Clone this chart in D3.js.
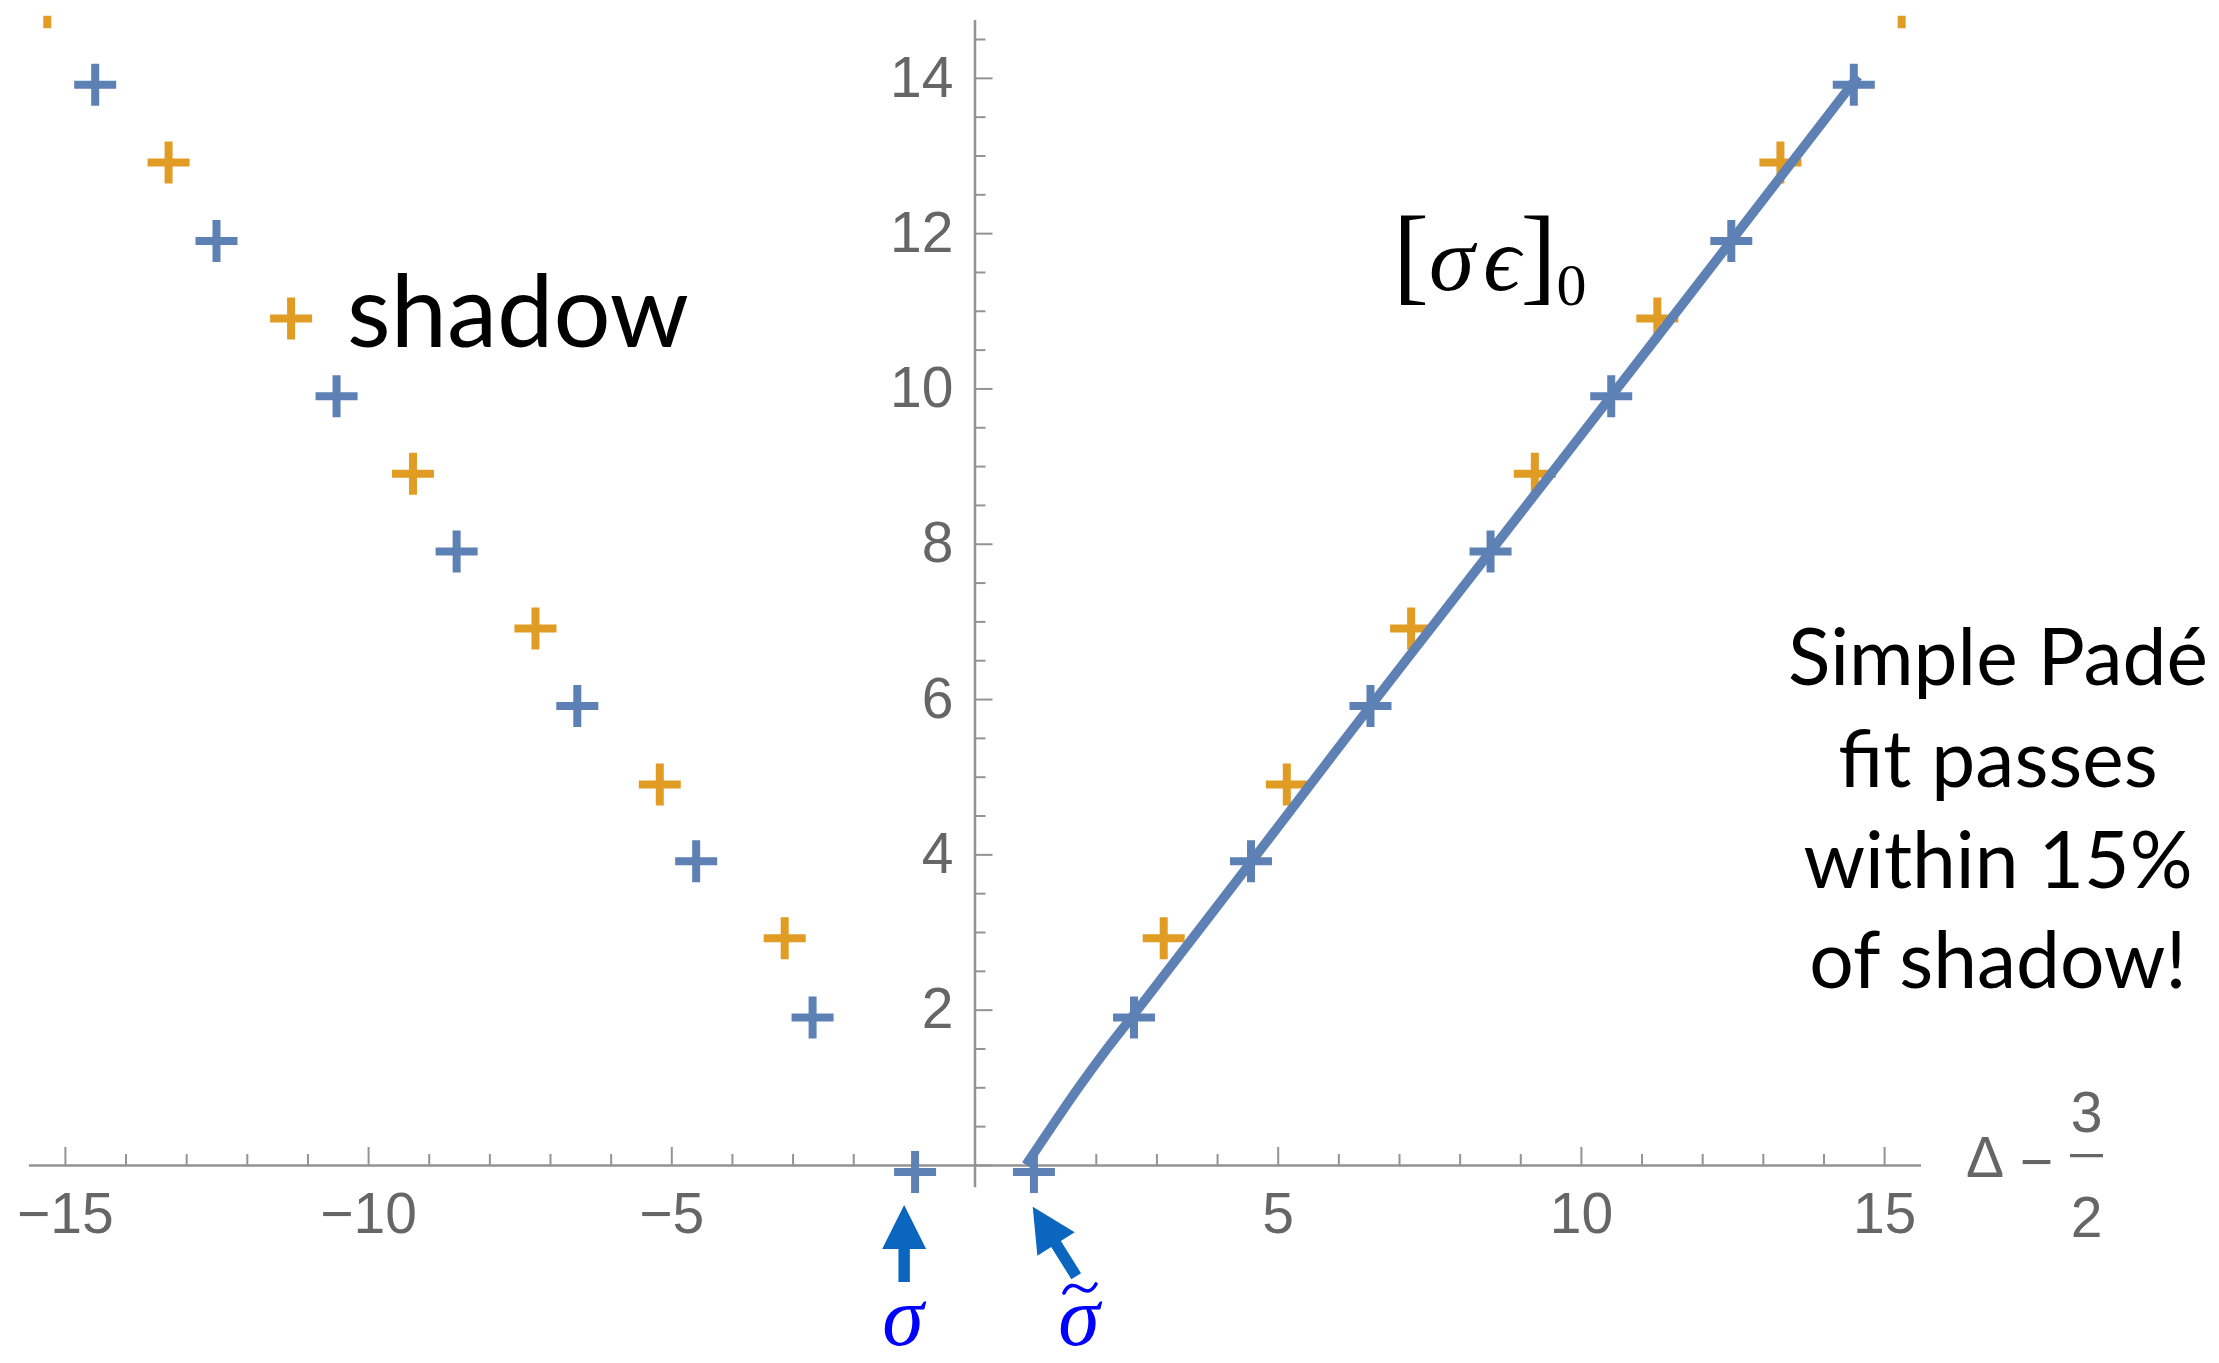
<!DOCTYPE html>
<html><head><meta charset="utf-8">
<script src="https://cdn.jsdelivr.net/npm/d3@7"></script>
<style>html,body{margin:0;padding:0;background:#fff;} svg{display:block;}</style>
</head><body>
<svg id="chart" width="2219" height="1363"></svg>
<script>
// ---- data ----
const blueX = [-14.50,-12.50,-10.52,-8.54,-6.55,-4.59,-2.67,-0.98, 0.98, 2.63, 4.56, 6.53, 8.51, 10.50, 12.48, 14.50];
const blueY = [ 13.91, 11.90,  9.90, 7.90, 5.91, 3.91, 1.90,-0.09,-0.09, 1.90, 3.91, 5.91, 7.90,  9.90, 11.90, 13.91];
const orangeX = [-15.29,-13.29,-11.27,-9.26,-7.24,-5.19,-3.13, 3.12, 5.15, 7.20, 9.24, 11.26, 13.29, 15.29];
const orangeY = [ 14.91, 12.91, 10.90, 8.90, 6.91, 4.90, 2.92, 2.92, 4.90, 6.91, 8.90, 10.90, 12.91, 14.91];
const fitX = [0.85, 1.28, 1.72, 2.19, 2.62, 4.57, 6.53, 8.51, 10.50, 12.48, 14.57];
const fitY = [0.00, 0.50, 1.00, 1.50, 1.93, 3.91, 5.91, 7.90,  9.90, 11.90, 14.02];
const xMajorTicks = [-15,-10,-5,0,5,10,15];
const yMajorTicks = [0,2,4,6,8,10,12,14];
const xTickLabels = ["−15","−10","−5","","5","10","15"];
const yTickLabels = ["","2","4","6","8","10","12","14"];
const noteLines = ["Simple Padé","fit passes","within 15%","of shadow!"];

// ---- layout ----
const svg = d3.select("#chart");
const x = d3.scaleLinear().domain([-15.6, 15.6]).range([28.5, 1920.5]);
const y = d3.scaleLinear().domain([-0.28, 14.75]).range([1186.7, 19.6]);
const BLUE = "#5E81B5", ORANGE = "#E19C24", AXIS = "#939393", LABEL = "#666666";
const tickFont = "'Liberation Sans', Arial, Helvetica, sans-serif";
const humanist = "Lato, 'Open Sans', sans-serif";
const serif = "'Liberation Serif','Times New Roman','DejaVu Serif',serif";

// clip
svg.append("defs").append("clipPath").attr("id","plotclip")
  .append("rect").attr("x", x(-15.6)).attr("y", y(14.8))
  .attr("width", x(15.6)-x(-15.6)).attr("height", y(-0.5)-y(14.8));

// minor ticks
const xMinor = d3.range(-15,16).filter(d => d % 5 !== 0);
const yMinor = d3.range(0.5,15,0.5).filter(d => d % 2 !== 0);

const gxMinor = svg.append("g").attr("transform",`translate(0,${y(0)})`)
  .call(d3.axisBottom(x).tickValues(xMinor).tickSizeInner(-11).tickSizeOuter(0).tickFormat(""));
gxMinor.select(".domain").remove();
const gyMinor = svg.append("g").attr("transform",`translate(${x(0)},0)`)
  .call(d3.axisLeft(y).tickValues(yMinor).tickSizeInner(-11).tickSizeOuter(0).tickFormat(""));
gyMinor.select(".domain").remove();

const gx = svg.append("g").attr("transform",`translate(0,${y(0)})`)
  .call(d3.axisBottom(x).tickValues(xMajorTicks).tickSizeInner(-18).tickSizeOuter(0).tickPadding(28)
        .tickFormat((d,i) => xTickLabels[i]));
const gy = svg.append("g").attr("transform",`translate(${x(0)},0)`)
  .call(d3.axisLeft(y).tickValues(yMajorTicks).tickSizeInner(-18).tickSizeOuter(0).tickPadding(21)
        .tickFormat((d,i) => yTickLabels[i]));

[gxMinor, gyMinor, gx, gy].forEach(g => {
  g.selectAll(".tick line").attr("stroke", AXIS).attr("stroke-width", 2);
  g.select(".domain").attr("stroke", AXIS).attr("stroke-width", 2.5);
  g.selectAll("text").attr("fill", LABEL).style("font-family", tickFont).style("font-size","57px");
});

// axis label  Δ − 3/2
const al = svg.append("g").attr("fill", LABEL).style("font-family", tickFont).style("font-size","57px");
al.append("text").attr("x", 1966).attr("y", 1177).text("Δ");
al.append("text").attr("x", 2036.5).attr("y", 1180.5).attr("text-anchor","middle").text("−");
al.append("text").attr("x", 2086.5).attr("y", 1132).attr("text-anchor","middle").text("3");
al.append("text").attr("x", 2086.5).attr("y", 1237).attr("text-anchor","middle").text("2");
al.append("line").attr("x1", 2070).attr("x2", 2103).attr("y1", 1155.7).attr("y2", 1155.7)
  .attr("stroke", LABEL).attr("stroke-width", 3.2);

// markers
const plot = svg.append("g").attr("clip-path","url(#plotclip)");
const plus = "M-21,0H21M0,-21V21";
plot.selectAll("path.orange").data(d3.zip(orangeX, orangeY)).join("path")
  .attr("class","orange").attr("d", plus)
  .attr("transform", d => `translate(${x(d[0])},${y(d[1])})`)
  .attr("stroke", ORANGE).attr("stroke-width", 8).attr("fill","none");
plot.selectAll("path.blue").data(d3.zip(blueX, blueY)).join("path")
  .attr("class","blue").attr("d", plus)
  .attr("transform", d => `translate(${x(d[0])},${y(d[1])})`)
  .attr("stroke", BLUE).attr("stroke-width", 8).attr("fill","none");

// fit line
plot.append("path").datum(d3.zip(fitX, fitY))
  .attr("d", d3.line().x(d => x(d[0])).y(d => y(d[1])).curve(d3.curveCatmullRom.alpha(0.5)))
  .attr("fill","none").attr("stroke", BLUE).attr("stroke-width", 9.5).attr("stroke-linecap","butt");

// "shadow" label
const sh = svg.append("text").attr("x", 347).attr("y", 347)
  .style("font-family", humanist).style("font-size","100px").attr("fill","#000").text("shadow");
{ const w = sh.node().getComputedTextLength(); sh.style("font-size", (100*342/w).toFixed(1)+"px"); }

// [σϵ]0 label (one text, glyphs flowing naturally)
const fl = svg.append("text").attr("x", 1393).attr("y", 291).attr("fill","#000").style("font-family", serif);
fl.append("tspan").style("font-size","108px").text("[");
fl.append("tspan").attr("dy", -1).style("font-size","92px").style("font-style","italic").text("σ");
fl.append("tspan").attr("dx", 9).style("font-size","92px").style("font-style","italic").text("ϵ");
fl.append("tspan").attr("dy", 1).style("font-size","108px").text("]");
fl.append("tspan").attr("dx", 0).attr("dy", 14).style("font-size","60px").text("0");

// note
const note = svg.append("g").style("font-family", humanist).attr("fill","#000").attr("text-anchor","middle");
const baselines = [685, 787, 888, 988];
const nt = note.selectAll("text").data(noteLines).join("text")
  .attr("x", 1998).attr("y", (d,i) => baselines[i]).style("font-size","80px").text(d => d);
{ const w = nt.nodes()[0].getComputedTextLength(); nt.style("font-size", (80*420/w).toFixed(1)+"px"); }

// arrows
const ARROW = "#0A66BE";
function arrow(tipX, tipY, dx, dy, len) {
  const n = Math.hypot(dx, dy); const ux = dx/n, uy = dy/n; // direction tail->tip
  const px = -uy, py = ux;
  const hl = 44, hw = 22, sw = 5.7;
  const bx = tipX - ux*hl, by = tipY - uy*hl;
  const tx = tipX - ux*len, ty = tipY - uy*len;
  const pts = [[tipX,tipY],[bx+px*hw,by+py*hw],[bx+px*sw,by+py*sw],[tx+px*sw,ty+py*sw],
               [tx-px*sw,ty-py*sw],[bx-px*sw,by-py*sw],[bx-px*hw,by-py*hw]];
  svg.append("path").attr("d", d3.line()(pts)+"Z").attr("fill", ARROW);
}
arrow(x(-1.16), y(-0.515), 0, -1, 77);
arrow(x(0.96), y(-0.537), -0.53, -0.848, 82);

// σ labels
const gl = svg.append("g").attr("fill","#0000FF").style("font-family", serif)
  .style("font-style","italic").style("font-size","84px").attr("text-anchor","middle");
gl.append("text").attr("x", 903).attr("y", 1345).text("σ");
gl.append("text").attr("x", 1079).attr("y", 1345).text("σ");
// tilde accent over the second σ
svg.append("path")
  .attr("d", "M1064,1293 C1068,1284 1074,1284 1080,1288 C1086,1292 1091,1293 1096,1284")
  .attr("fill","none").attr("stroke","#0000FF").attr("stroke-width", 3.6).attr("stroke-linecap","round");
</script>
</body></html>
